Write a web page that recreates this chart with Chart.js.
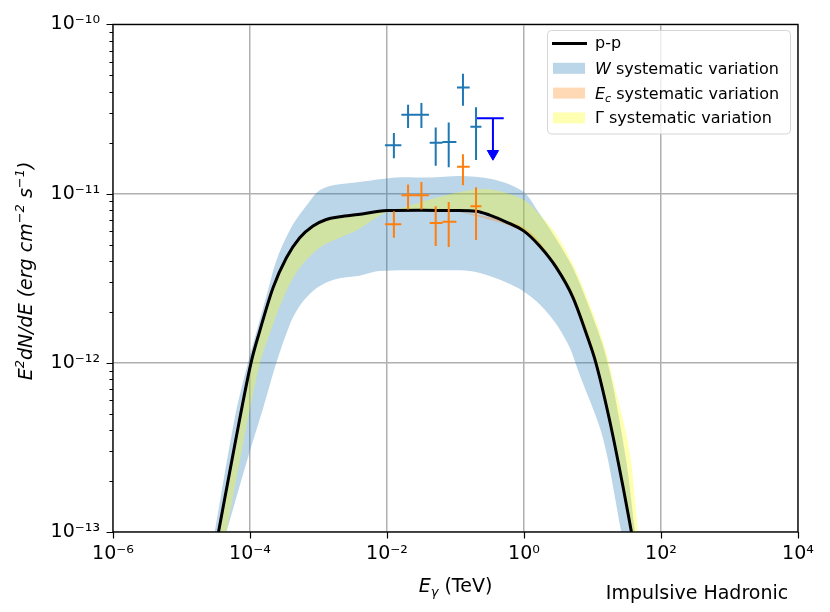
<!DOCTYPE html>
<html>
<head>
<meta charset="utf-8">
<script src="https://cdn.jsdelivr.net/npm/chart.js@4.4.1/dist/chart.umd.min.js"></script>
<style>
  html, body { margin: 0; padding: 0; background: #fff; }
  #wrap { width: 830px; height: 612px; }
</style>
</head>
<body>
<div id="wrap"><canvas id="sed" width="830" height="612"></canvas></div>
<script>
// axis ticks
const xTickValues = [1e-6, 1e-4, 1e-2, 1, 1e2, 1e4];
const xTickLabels = ['10⁻⁶', '10⁻⁴', '10⁻²', '10⁰', '10²', '10⁴'];
const yTickValues = [1e-13, 1e-12, 1e-11, 1e-10];
const yTickLabels = ['10⁻¹³', '10⁻¹²', '10⁻¹¹', '10⁻¹⁰'];

// p-p model curve: energy (TeV) / E^2 dN/dE (erg cm^-2 s^-1)
const ppE = [3.47e-5, 6.03e-5, 1.035e-4, 1.39e-4, 2.17e-4, 3.40e-4, 5.32e-4, 8.32e-4, 1.30e-3, 2.04e-3,
  3.78e-3, 1.0e-2, 3.16e-2, 0.1, 0.2, 0.316, 0.553, 1.0, 1.69, 2.97, 5.19, 8.15, 11.2, 17.8, 27.9, 37.0];
const ppFlux = [1.0e-13, 3.31e-13, 1.0e-12, 1.545e-12, 2.78e-12, 4.18e-12, 5.48e-12, 6.43e-12, 7.03e-12, 7.29e-12,
  7.53e-12, 7.94e-12, 7.98e-12, 7.94e-12, 7.87e-12, 7.46e-12, 6.79e-12, 6.0e-12, 4.90e-12, 3.65e-12, 2.43e-12,
  1.48e-12, 1.0e-12, 4.56e-13, 1.85e-13, 1.0e-13];

// W systematic band
const wUpperE = [3.05e-5, 6.03e-5, 9.33e-5, 1.32e-4, 1.82e-4, 2.51e-4, 4.25e-4, 7.45e-4, 9.84e-4, 1.45e-3,
  4.47e-3, 1.38e-2, 4.17e-2, 0.129, 0.398, 1.0, 1.69, 2.97, 5.19, 9.10, 14.2, 20.0, 31.6, 41.7];
const wUpperFlux = [1.0e-13, 4.79e-13, 1.0e-12, 1.66e-12, 2.66e-12, 4.18e-12, 6.58e-12, 9.02e-12, 1.03e-11, 1.11e-11,
  1.18e-11, 1.245e-11, 1.245e-11, 1.27e-11, 1.20e-11, 1.02e-11, 7.59e-12, 5.37e-12, 3.63e-12, 2.09e-12,
  1.26e-12, 7.24e-13, 2.51e-13, 1.0e-13];
const wLowerE = [4.52e-5, 9.33e-5, 1.55e-4, 2.43e-4, 4.02e-4, 5.62e-4, 8.32e-4, 1.30e-3, 2.04e-3, 3.78e-3,
  7.76e-3, 4.17e-2, 0.162, 0.316, 0.553, 0.966, 1.69, 2.97, 4.65, 6.17, 14.1, 26.3];
const wLowerFlux = [1.0e-13, 2.75e-13, 5.37e-13, 1.0e-12, 1.77e-12, 2.24e-12, 2.66e-12, 2.98e-12, 3.16e-12, 3.26e-12,
  3.49e-12, 3.52e-12, 3.49e-12, 3.26e-12, 2.98e-12, 2.66e-12, 2.22e-12, 1.69e-12, 1.23e-12, 8.97e-13, 3.63e-13, 1.0e-13];

// E_c systematic band
const ecUpperE = [0.1, 1.0, 2.97, 5.19, 11.2, 27.9, 38.9];
const ecUpperFlux = [7.94e-12, 6.31e-12, 3.80e-12, 2.57e-12, 1.07e-12, 2.04e-13, 1.0e-13];
const ecLowerE = [0.1, 1.0, 2.97, 5.19, 11.2, 27.9, 36.0];
const ecLowerFlux = [7.94e-12, 5.9e-12, 3.55e-12, 2.35e-12, 9.5e-13, 1.78e-13, 1.0e-13];

// Gamma systematic band
const gUpperE = [3.47e-5, 6.03e-5, 1.035e-4, 1.39e-4, 2.17e-4, 3.40e-4, 5.32e-4, 8.32e-4, 1.30e-3, 2.04e-3,
  3.78e-3, 1.0e-2, 1.38e-2, 4.17e-2, 0.129, 0.316, 0.966, 1.69, 2.97, 5.19, 9.10, 14.2, 20.0, 34.7, 46.1];
const gUpperFlux = [1.0e-13, 3.31e-13, 1.0e-12, 1.545e-12, 2.78e-12, 4.18e-12, 5.48e-12, 6.43e-12, 7.03e-12, 7.29e-12,
  7.53e-12, 7.94e-12, 8.05e-12, 9.23e-12, 1.03e-11, 1.06e-11, 9.23e-12, 7.53e-12, 5.74e-12, 3.82e-12,
  2.22e-12, 1.35e-12, 7.94e-13, 3.02e-13, 1.0e-13];
const gLowerE = [4.52e-5, 1.31e-4, 2.17e-4, 3.40e-4, 5.32e-4, 1.04e-3, 2.04e-3, 3.78e-3, 1.0e-2, 3.16e-2,
  0.1, 0.2, 0.316, 0.553, 1.0, 1.69, 2.97, 5.19, 8.15, 11.2, 17.8, 27.9, 37.0];
const gLowerFlux = [1.0e-13, 8.97e-13, 1.69e-12, 2.66e-12, 3.65e-12, 4.79e-12, 5.48e-12, 6.14e-12, 7.76e-12, 7.98e-12,
  7.94e-12, 7.87e-12, 7.46e-12, 6.79e-12, 6.0e-12, 4.90e-12, 3.65e-12, 2.43e-12, 1.48e-12, 1.0e-12, 4.56e-13,
  1.85e-13, 1.0e-13];

// measured points, shared energy bins
const binE = [0.0126, 0.0203, 0.0318, 0.0514, 0.0796, 0.1285, 0.1995];
const binELo = [0.00933, 0.0162, 0.0254, 0.042, 0.0645, 0.105, 0.165];
const binEHi = [0.0162, 0.0254, 0.041, 0.0645, 0.103, 0.161, 0.239];

const blueFlux = [1.93e-11, 2.92e-11, 2.92e-11, 2.0e-11, 2.02e-11, 4.24e-11, 2.48e-11];
const blueFluxLo = [1.62e-11, 2.44e-11, 2.44e-11, 1.46e-11, 1.43e-11, 3.30e-11, 1.58e-11];
const blueFluxHi = [2.28e-11, 3.35e-11, 3.43e-11, 2.46e-11, 2.63e-11, 5.11e-11, 3.24e-11];

const orangeFlux = [6.58e-12, 9.77e-12, 9.77e-12, 6.71e-12, 6.81e-12, 1.44e-11, 8.43e-12];
const orangeFluxLo = [5.48e-12, 8.05e-12, 8.05e-12, 4.90e-12, 4.83e-12, 1.12e-11, 5.32e-12];
const orangeFluxHi = [7.87e-12, 1.13e-11, 1.17e-11, 8.43e-12, 8.91e-12, 1.71e-11, 1.09e-11];

// upper limit
const ulE = [0.352];
const ulELo = [0.206];
const ulEHi = [0.506];
const ulFlux = [2.79e-11];
const ulArrowTo = [1.72e-11];

const FAM = '"DejaVu Sans", sans-serif';

function toPoints(xs, ys) {
  return xs.map((x, i) => ({ x, y: ys[i] }));
}

// closed outline: upper edge left->right, then lower edge right->left.
// the two bottom corners are doubled so the spline keeps them sharp
function bandShape(upE, upF, loE, loF) {
  const up = toPoints(upE, upF);
  const lo = toPoints(loE, loF).reverse();
  return up.concat([{ ...up[up.length - 1] }, lo[0]], lo);
}

// crosses drawn as segments separated by gaps
function errorBars(e, eLo, eHi, f, fLo, fHi) {
  const pts = [];
  e.forEach((x, i) => {
    pts.push({ x: eLo[i], y: f[i] }, { x: eHi[i], y: f[i] }, { x: null, y: null });
    pts.push({ x, y: fLo[i] }, { x, y: fHi[i] }, { x: null, y: null });
  });
  return pts;
}

const yMinorTicks = [];
yTickValues.slice(0, -1).forEach(d => {
  for (let k = 2; k <= 9; k++) yMinorTicks.push(k * d);
});

function drawRuns(ctx, runs, x0, baseY, align) {
  let total = 0;
  runs.forEach(r => { ctx.font = r.font; r.w = ctx.measureText(r.t).width; total += r.w; });
  let x = align === 'center' ? x0 - total / 2 : x0;
  runs.forEach(r => {
    ctx.font = r.font;
    ctx.fillText(r.t, x, baseY + (r.dy || 0));
    x += r.w;
  });
}

const decorations = {
  id: 'decorations',
  afterDatasetsDraw(chart) {
    const { ctx, chartArea: a, scales: { x, y } } = chart;
    ctx.save();
    ctx.strokeStyle = '#000';
    ctx.lineWidth = 1.2;
    ctx.beginPath();
    xTickValues.forEach(v => {
      const px = Math.round(x.getPixelForValue(v)) + 0.5;
      ctx.moveTo(px, a.bottom);
      ctx.lineTo(px, a.bottom + 6.5);
    });
    yTickValues.forEach(v => {
      const py = Math.round(y.getPixelForValue(v)) + 0.5;
      ctx.moveTo(a.left - 6.5, py);
      ctx.lineTo(a.left, py);
    });
    ctx.stroke();
    ctx.lineWidth = 1;
    ctx.beginPath();
    yMinorTicks.forEach(v => {
      const py = Math.round(y.getPixelForValue(v)) + 0.5;
      ctx.moveTo(a.left - 3.5, py);
      ctx.lineTo(a.left, py);
    });
    ctx.stroke();
    ctx.lineWidth = 1.3;
    ctx.strokeRect(a.left, a.top, a.right - a.left, a.bottom - a.top);
    ctx.restore();
  },
  afterDraw(chart) {
    const { ctx, chartArea: a } = chart;
    ctx.save();
    ctx.fillStyle = '#000';
    ctx.textAlign = 'left';
    ctx.textBaseline = 'alphabetic';

    // y axis title
    ctx.save();
    ctx.translate(32, 271);
    ctx.rotate(-Math.PI / 2);
    drawRuns(ctx, [
      { t: 'E', font: `italic 19px ${FAM}` },
      { t: '2', font: `italic 13px ${FAM}`, dy: -8 },
      { t: 'dN/dE (erg cm', font: `italic 19px ${FAM}` },
      { t: '−2', font: `italic 13px ${FAM}`, dy: -8 },
      { t: ' s', font: `italic 19px ${FAM}` },
      { t: '−1', font: `italic 13px ${FAM}`, dy: -8 },
      { t: ')', font: `italic 19px ${FAM}` }
    ], 0, 0, 'center');
    ctx.restore();

    // x axis title
    drawRuns(ctx, [
      { t: 'E', font: `italic 19px ${FAM}` },
      { t: 'γ', font: `italic 13px ${FAM}`, dy: 4 },
      { t: ' (TeV)', font: `19px ${FAM}` }
    ], (a.left + a.right) / 2, 592, 'center');

    drawRuns(ctx, [{ t: 'Impulsive Hadronic', font: `19px ${FAM}` }], 697, 599, 'center');

    // legend
    const bx = 547.5, by = 30.5, bw = 243, bh = 103.5;
    ctx.beginPath();
    ctx.roundRect(bx, by, bw, bh, 4);
    ctx.fillStyle = 'rgba(255,255,255,0.8)';
    ctx.fill();
    ctx.strokeStyle = 'rgba(204,204,204,0.8)';
    ctx.lineWidth = 1;
    ctx.stroke();

    const rows = [43.5, 68.3, 93.1, 117.9];
    ctx.strokeStyle = '#000';
    ctx.lineWidth = 3;
    ctx.beginPath();
    ctx.moveTo(552, rows[0]);
    ctx.lineTo(587, rows[0]);
    ctx.stroke();
    const patches = ['rgba(31,119,180,0.3)', 'rgba(255,127,14,0.3)', 'rgba(255,255,0,0.3)'];
    patches.forEach((c, i) => {
      ctx.fillStyle = c;
      ctx.fillRect(553, rows[i + 1] - 5.5, 32, 11);
    });
    ctx.fillStyle = '#000';
    const tx = 595;
    drawRuns(ctx, [{ t: 'p-p', font: `16px ${FAM}` }], tx, rows[0] + 4.5, 'left');
    drawRuns(ctx, [
      { t: 'W', font: `italic 16px ${FAM}` },
      { t: ' systematic variation', font: `16px ${FAM}` }
    ], tx, rows[1] + 5.5, 'left');
    drawRuns(ctx, [
      { t: 'E', font: `italic 16px ${FAM}` },
      { t: 'c', font: `italic 11px ${FAM}`, dy: 3.5 },
      { t: ' systematic variation', font: `16px ${FAM}` }
    ], tx, rows[2] + 5.5, 'left');
    drawRuns(ctx, [{ t: 'Γ systematic variation', font: `16px ${FAM}` }], tx, rows[3] + 5.5, 'left');
    ctx.restore();
  }
};

const lineBase = { pointRadius: 0, pointHoverRadius: 0 };
const bandBase = { ...lineBase, tension: 0.3, borderWidth: 0, borderColor: 'rgba(0,0,0,0)', fill: 'shape' };

new Chart(document.getElementById('sed'), {
  type: 'line',
  data: {
    datasets: [
      {
        ...lineBase, label: 'blue points', order: 0, tension: 0,
        data: errorBars(binE, binELo, binEHi, blueFlux, blueFluxLo, blueFluxHi),
        borderColor: '#1f77b4', borderWidth: 2, fill: false
      },
      {
        ...lineBase, label: 'orange points', order: 0, tension: 0,
        data: errorBars(binE, binELo, binEHi, orangeFlux, orangeFluxLo, orangeFluxHi),
        borderColor: '#ff7f0e', borderWidth: 2, fill: false
      },
      {
        ...lineBase, label: 'upper limit', order: 0, tension: 0,
        data: [
          { x: ulELo[0], y: ulFlux[0] }, { x: ulEHi[0], y: ulFlux[0] }, { x: null, y: null },
          { x: ulE[0], y: ulFlux[0] }, { x: ulE[0], y: ulArrowTo[0] }
        ],
        borderColor: '#0000ff', borderWidth: 2, fill: false
      },
      {
        label: 'arrow', order: 0, showLine: false,
        data: [{ x: ulE[0], y: ulArrowTo[0] }],
        pointStyle: 'triangle', rotation: 180, pointRadius: 6.5, pointHoverRadius: 6.5,
        pointBackgroundColor: '#0000ff', pointBorderColor: '#0000ff', pointBorderWidth: 1
      },
      {
        ...lineBase, label: 'p-p', order: 1, cubicInterpolationMode: 'monotone',
        data: toPoints(ppE, ppFlux),
        borderColor: '#000', borderWidth: 3, fill: false
      },
      {
        ...bandBase, label: 'Γ systematic variation', order: 2,
        data: bandShape(gUpperE, gUpperFlux, gLowerE, gLowerFlux),
        backgroundColor: 'rgba(255,255,0,0.3)'
      },
      {
        ...bandBase, label: 'Ec systematic variation', order: 3,
        data: bandShape(ecUpperE, ecUpperFlux, ecLowerE, ecLowerFlux),
        backgroundColor: 'rgba(255,127,14,0.3)'
      },
      {
        ...bandBase, label: 'W systematic variation', order: 4,
        data: bandShape(wUpperE, wUpperFlux, wLowerE, wLowerFlux),
        backgroundColor: 'rgba(31,119,180,0.3)'
      }
    ]
  },
  options: {
    responsive: false,
    animation: false,
    events: [],
    layout: { padding: { top: 23, right: 32, left: 0, bottom: 0 } },
    plugins: {
      legend: { display: false },
      tooltip: { enabled: false }
    },
    scales: {
      x: {
        type: 'logarithmic',
        min: 1e-6,
        max: 1e4,
        afterBuildTicks: scale => { scale.ticks = xTickValues.map(v => ({ value: v, major: true })); },
        afterFit: scale => { scale.height = 80; },
        ticks: {
          callback: (v, i) => xTickLabels[i],
          autoSkip: false,
          maxRotation: 0,
          padding: 11,
          color: '#000',
          font: { family: FAM, size: 19 }
        },
        grid: { color: '#b0b0b0', lineWidth: 1.5, drawTicks: false },
        border: { display: false }
      },
      y: {
        type: 'logarithmic',
        min: 1e-13,
        max: 1e-10,
        afterBuildTicks: scale => { scale.ticks = yTickValues.map(v => ({ value: v, major: true })); },
        afterFit: scale => { scale.width = 113; },
        ticks: {
          callback: (v, i) => yTickLabels[i],
          autoSkip: false,
          padding: 13,
          color: '#000',
          font: { family: FAM, size: 19 }
        },
        grid: { color: '#b0b0b0', lineWidth: 1.5, drawTicks: false },
        border: { display: false }
      }
    }
  },
  plugins: [decorations]
});
</script>
</body>
</html>
